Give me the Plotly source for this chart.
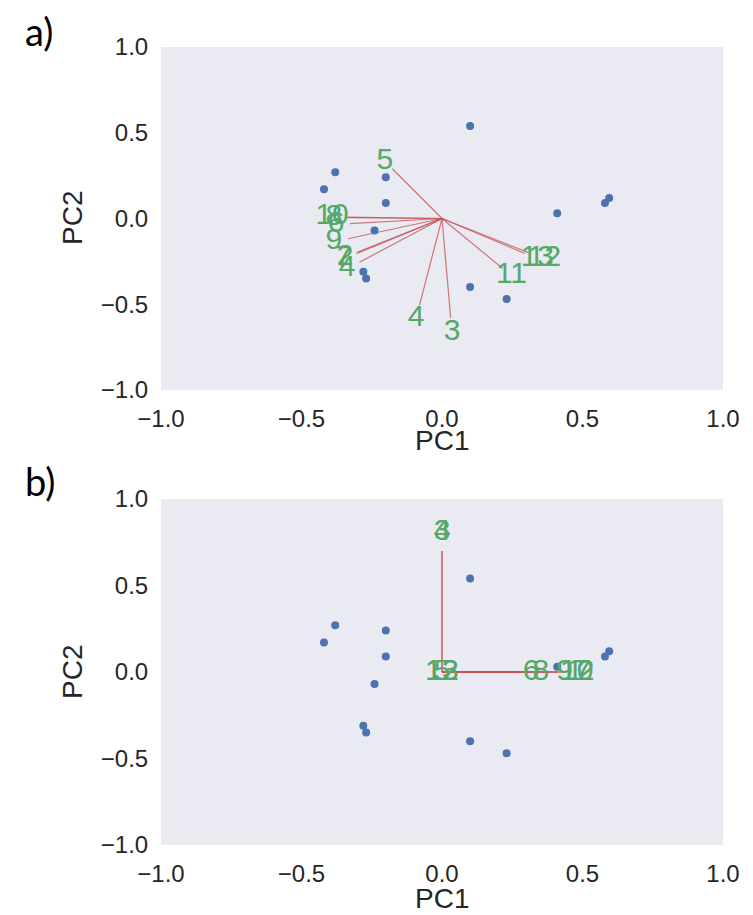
import plotly.graph_objects as go

# Scores (same samples in both panels)
score_pc1 = [0.10, -0.38, -0.42, -0.20, -0.20, -0.24, -0.28, -0.27, 0.10, 0.23, 0.41, 0.58, 0.595]
score_pc2 = [0.54, 0.27, 0.17, 0.24, 0.09, -0.07, -0.31, -0.35, -0.40, -0.47, 0.03, 0.09, 0.12]

# Panel a loadings
a_labels = ["5", "3", "4", "11", "13", "12", "10", "8", "6", "9", "2", "7", "4"]
a_pc1 = [-0.177, 0.031, -0.080, 0.215, 0.295, 0.317, -0.340, -0.335, -0.328, -0.335, -0.300, -0.305, -0.294]
a_pc2 = [0.290, -0.580, -0.505, -0.290, -0.204, -0.205, 0.008, 0.005, -0.030, -0.118, -0.196, -0.205, -0.255]

# Panel b loadings
b_labels = ["3", "4", "12", "13", "5", "6", "8", "9", "1", "10", "7", "2"]
b_pc1 = [0.0, 0.0, 0.0, 0.0, 0.0, 0.276, 0.306, 0.379, 0.410, 0.417, 0.435, 0.446]
b_pc2 = [0.70, 0.70, 0.0, 0.0, 0.0, 0.0, 0.0, 0.0, 0.0, 0.0, 0.0, 0.0]

ticks = [-1.0, -0.5, 0.0, 0.5, 1.0]
tick_text = ["\u22121.0", "\u22120.5", "0.0", "0.5", "1.0"]
LABEL_SCALE = 1.15

# page body has an 8px margin; size the figure so it fills the 753x915 window
OFF = 8
W, H = 753 - OFF, 915 - OFF
BLUE = "#4C72B0"
RED = "rgba(196,78,82,0.75)"
GREEN = "#55A868"
BG = "#EAEAF2"
TXT = "#262626"
FONT = "Liberation Sans, Arial, sans-serif"


def px(x):
    return (x - OFF) / W


def py(y):
    return 1 - (y - OFF) / H


fig = go.Figure()


def add_panel(fig, xa, ya, labels, lx, ly):
    xs, ys = [], []
    for x, y in zip(lx, ly):
        xs += [0, x, None]
        ys += [0, y, None]
    fig.add_trace(go.Scatter(x=xs, y=ys, mode="lines", line=dict(color=RED, width=1.2),
                             xaxis=xa, yaxis=ya, showlegend=False, hoverinfo="skip"))
    fig.add_trace(go.Scatter(x=score_pc1, y=score_pc2, mode="markers",
                             marker=dict(color=BLUE, size=8),
                             xaxis=xa, yaxis=ya, showlegend=False))
    fig.add_trace(go.Scatter(x=[v * LABEL_SCALE for v in lx], y=[v * LABEL_SCALE for v in ly],
                             mode="text", text=labels, textposition="middle center",
                             textfont=dict(color=GREEN, size=30, family=FONT),
                             xaxis=xa, yaxis=ya, showlegend=False, hoverinfo="skip"))


add_panel(fig, "x", "y", a_labels, a_pc1, a_pc2)
add_panel(fig, "x2", "y2", b_labels, b_pc1, b_pc2)

x_dom = [px(161), px(723)]
ya_dom = [py(390), py(47)]
yb_dom = [py(845), py(499)]

axis_common = dict(range=[-1, 1], tickvals=ticks, ticktext=tick_text, showgrid=False,
                   zeroline=False, showline=False, ticks="outside", ticklen=7, automargin=False,
                   tickcolor="rgba(0,0,0,0)", tickfont=dict(size=24, color=TXT, family=FONT))


def ann(text, x, y, size, family, color=TXT, angle=0):
    return dict(text=text, x=px(x), y=py(y), xref="paper", yref="paper",
                xanchor="center", yanchor="middle", textangle=angle,
                showarrow=False, font=dict(size=size, color=color, family=family))


LETTER_FONT = "Lato, Open Sans, sans-serif"

fig.update_layout(
    width=W, height=H,
    margin=dict(l=0, r=0, t=0, b=0, autoexpand=False),
    paper_bgcolor="white", plot_bgcolor=BG,
    xaxis=dict(domain=x_dom, anchor="y", **axis_common),
    yaxis=dict(domain=ya_dom, anchor="x", **axis_common),
    xaxis2=dict(domain=x_dom, anchor="y2", **axis_common),
    yaxis2=dict(domain=yb_dom, anchor="x2", **axis_common),
    annotations=[
        ann("PC1", 442, 440, 28, FONT),
        ann("PC2", 72, 218, 28, FONT, angle=-90),
        ann("PC1", 442, 898, 28, FONT),
        ann("PC2", 72, 672, 28, FONT, angle=-90),
        ann("a)", 39, 31, 38, LETTER_FONT, color="black"),
        ann("b)", 40, 481, 38, LETTER_FONT, color="black"),
    ],
)

fig.write_html("out.html")
